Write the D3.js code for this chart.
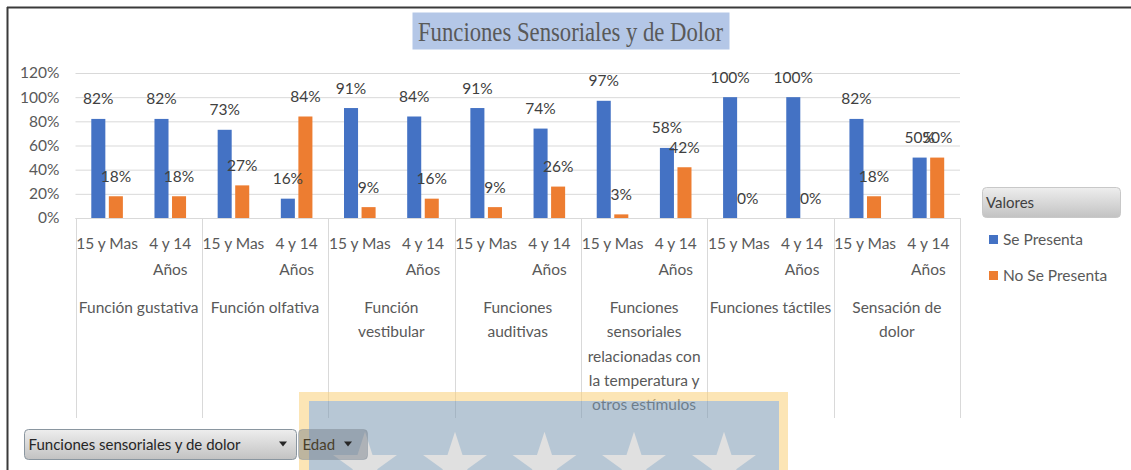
<!DOCTYPE html>
<html>
<head>
<meta charset="utf-8">
<script src="https://cdn.jsdelivr.net/npm/d3@7"></script>
<style>
  html, body { margin: 0; padding: 0; background: #ffffff; }
  svg { display: block; }
</style>
</head>
<body>
<svg id="chart" width="1131" height="470"></svg>
<script>
// ---------- DATA ----------
const chartTitle = "Funciones Sensoriales y de Dolor";
const categories = [
  "Función gustativa",
  "Función olfativa",
  "Función\nvestibular",
  "Funciones\nauditivas",
  "Funciones\nsensoriales\nrelacionadas con\nla temperatura y\notros estímulos",
  "Funciones táctiles",
  "Sensación de\ndolor"
];
const ageGroups = ["15 y Mas", "4 y 14\nAños"];
const seriesNames = ["Se Presenta", "No Se Presenta"];
const seriesColors = ["#4472c4", "#ed7d31"];
// values in category order, two age groups each (15 y Mas, 4 y 14 Años)
const sePresenta   = [82, 82, 73, 16, 91, 84, 91, 74, 97, 58, 100, 100, 82, 50];
const noSePresenta = [18, 18, 27, 84,  9, 16,  9, 26,  3, 42,   0,   0, 18, 50];
const yTickValues = [0, 20, 40, 60, 80, 100, 120];
const legendTitle = "Valores";
const filterLabels = ["Funciones sensoriales y de dolor", "Edad"];

// ---------- SETUP ----------
const svg = d3.select("#chart");
const W = 1131, H = 470;
const FONT = "Lato, 'Open Sans', sans-serif";

const plot = { left: 75.5, right: 960, top: 73, bottom: 218 };

const y = d3.scaleLinear().domain([0, 120]).range([plot.bottom, plot.top]);
const xCat = d3.scaleBand().domain(categories).range([plot.left, plot.right]).padding(0);
const xAge = d3.scaleBand().domain(ageGroups).range([0, xCat.bandwidth()]).padding(0);
const xSer = d3.scaleBand().domain(seriesNames).range([0, xAge.bandwidth()])
  .paddingInner(0.2).paddingOuter(0.9);

// flatten rows
const rows = [];
categories.forEach((c, ci) => {
  ageGroups.forEach((a, ai) => {
    const idx = ci * ageGroups.length + ai;
    rows.push({ cat: c, age: a, values: [sePresenta[idx], noSePresenta[idx]] });
  });
});

const defs = svg.append("defs");
const grad = defs.append("linearGradient").attr("id", "btnGrad")
  .attr("x1", 0).attr("y1", 0).attr("x2", 0).attr("y2", 1);
grad.append("stop").attr("offset", "0%").attr("stop-color", "#eeeeee");
grad.append("stop").attr("offset", "100%").attr("stop-color", "#c2c2c2");

// ---------- FRAME ----------
svg.append("line").attr("x1", 7).attr("x2", W).attr("y1", 7.5).attr("y2", 7.5)
  .attr("stroke", "#3a3a3a").attr("stroke-width", 2);
svg.append("line").attr("x1", 7.5).attr("x2", 7.5).attr("y1", 7).attr("y2", H)
  .attr("stroke", "#3a3a3a").attr("stroke-width", 2);

// ---------- TITLE ----------
const titleG = svg.append("g");
titleG.append("rect").attr("x", 412.5).attr("y", 12.5).attr("width", 317).attr("height", 37)
  .attr("fill", "#b4c7e7");
titleG.append("text").attr("x", 418).attr("y", 41)
  .attr("font-family", "'Liberation Serif', 'Times New Roman', serif")
  .attr("font-size", 26.5).attr("fill", "#595959")
  .attr("textLength", 305).attr("lengthAdjust", "spacingAndGlyphs")
  .text(chartTitle);

// ---------- GRIDLINES & Y AXIS ----------
const yAxis = d3.axisLeft(y).tickValues(yTickValues).tickSize(-(plot.right - plot.left))
  .tickFormat(d => d + "%").tickPadding(16);
const gy = svg.append("g").attr("transform", `translate(${plot.left},0)`).call(yAxis);
gy.select(".domain").remove();
gy.selectAll(".tick line").attr("stroke", "#d9d9d9").attr("stroke-width", 1);
gy.selectAll(".tick text").attr("font-family", FONT).attr("font-size", 15.5)
  .attr("fill", "#595959");

// ---------- X AXIS (multi-level) ----------
const axisG = svg.append("g");
axisG.append("line").attr("x1", plot.left).attr("x2", plot.right)
  .attr("y1", plot.bottom + 0.5).attr("y2", plot.bottom + 0.5)
  .attr("stroke", "#d9d9d9");
const sepBottom = 418;
const seps = categories.map(c => xCat(c)).concat([plot.right]);
axisG.selectAll("line.sep").data(seps).join("line").attr("class", "sep")
  .attr("x1", d => Math.round(d) + 0.5).attr("x2", d => Math.round(d) + 0.5)
  .attr("y1", plot.bottom).attr("y2", sepBottom)
  .attr("stroke", "#d9d9d9");

// age-group labels
rows.forEach(r => {
  const cx = xCat(r.cat) + xAge(r.age) + xAge.bandwidth() / 2;
  const t = axisG.append("text").attr("text-anchor", "middle")
    .attr("font-family", FONT).attr("font-size", 15.5).attr("fill", "#595959");
  r.age.split("\n").forEach((line, i) => {
    t.append("tspan").attr("x", cx).attr("y", 249 + i * 25.5).text(line);
  });
});

// category labels
categories.forEach(c => {
  const cx = xCat(c) + xCat.bandwidth() / 2;
  const t = axisG.append("text").attr("text-anchor", "middle")
    .attr("font-family", FONT).attr("font-size", 15.5).attr("fill", "#595959");
  c.split("\n").forEach((line, i) => {
    t.append("tspan").attr("x", cx).attr("y", 313 + i * 24.3).text(line);
  });
});

// ---------- BARS ----------
const barG = svg.append("g");
rows.forEach(r => {
  seriesNames.forEach((s, si) => {
    const v = r.values[si];
    const bx = xCat(r.cat) + xAge(r.age) + xSer(s);
    barG.append("rect")
      .attr("x", bx).attr("width", xSer.bandwidth())
      .attr("y", y(v)).attr("height", y(0) - y(v))
      .attr("fill", seriesColors[si]);
  });
});
// data labels
rows.forEach(r => {
  seriesNames.forEach((s, si) => {
    const v = r.values[si];
    const cx = xCat(r.cat) + xAge(r.age) + xSer(s) + xSer.bandwidth() / 2;
    barG.append("text").attr("x", cx).attr("y", y(v) - 20)
      .attr("dy", "0.36em").attr("text-anchor", "middle")
      .attr("font-family", FONT).attr("font-size", 15.5).attr("fill", "#404040")
      .text(v + "%");
  });
});

// ---------- LEGEND ----------
const lg = svg.append("g");
lg.append("rect").attr("x", 982.5).attr("y", 187.5).attr("width", 138).attr("height", 30)
  .attr("rx", 4).attr("fill", "url(#btnGrad)").attr("stroke", "#c8c8c8");
lg.append("text").attr("x", 986).attr("y", 208).attr("font-family", FONT)
  .attr("font-size", 15).attr("fill", "#404040").text(legendTitle);
seriesNames.forEach((s, i) => {
  const yy = 239.5 + i * 36;
  lg.append("rect").attr("x", 989).attr("y", yy - 4.5).attr("width", 9).attr("height", 9)
    .attr("fill", seriesColors[i]);
  lg.append("text").attr("x", 1003).attr("y", yy).attr("dy", "0.36em")
    .attr("font-family", FONT).attr("font-size", 15.5).attr("fill", "#595959").text(s);
});

// ---------- WATERMARK (semi-transparent overlay) ----------
const wm = svg.append("g").attr("opacity", 0.55);
wm.append("rect").attr("x", 299).attr("y", 392).attr("width", 489).attr("height", 90)
  .attr("fill", "#fbd07a");
wm.append("rect").attr("x", 309).attr("y", 401).attr("width", 470).attr("height", 80)
  .attr("fill", "#7e9bb4");
const starCenters = [365, 455, 544.5, 634, 724];
const R = 33.6, r = R * 0.382;
const starPts = d3.range(10).map(i => {
  const a = -Math.PI / 2 + i * Math.PI / 5;
  const rr = i % 2 === 0 ? R : r;
  return [rr * Math.cos(a), rr * Math.sin(a)];
});
starCenters.forEach(cx => {
  wm.append("path")
    .attr("d", d3.line()(starPts.map(p => [p[0] + cx, p[1] + 465.3])) + "Z")
    .attr("fill", "#c7c7c7");
});

// ---------- FILTER BUTTONS ----------
const btns = [
  { x: 24.5, w: 272, label: filterLabels[0], arrow: 283, op: 1, tc: "#262626" },
  { x: 298.5, w: 69, label: filterLabels[1], arrow: 348, op: 0.45, tc: "#4a3f2a" }
];
btns.forEach(b => {
  const g = svg.append("g");
  g.append("rect").attr("x", b.x).attr("y", 429.5).attr("width", b.w).attr("height", 30)
    .attr("rx", 4).attr("fill", b.op < 1 ? "#707a84" : "url(#btnGrad)")
    .attr("fill-opacity", b.op).attr("stroke", "#8a96a0").attr("stroke-opacity", b.op < 1 ? 0.5 : 1);
  g.append("text").attr("x", b.x + 4).attr("y", 445).attr("dy", "0.36em")
    .attr("font-family", FONT).attr("font-size", 15).attr("fill", b.tc).text(b.label);
  g.append("path").attr("d", `M${b.arrow - 4},441.5 L${b.arrow + 4},441.5 L${b.arrow},446.5 Z`)
    .attr("fill", "#262626");
});
</script>
</body>
</html>
